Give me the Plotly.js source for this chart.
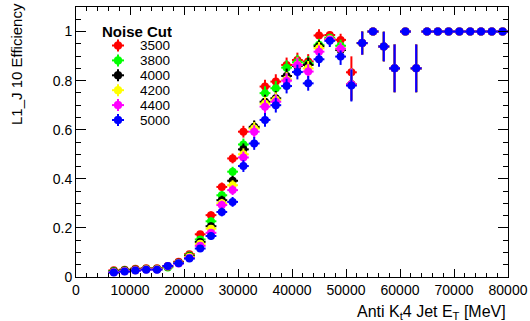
<!DOCTYPE html>
<html>
<head>
<meta charset="utf-8">
<script src="https://cdn.plot.ly/plotly-3.0.1.min.js"></script>
<style>html,body{margin:0;padding:0;background:#fff}#chart{width:530px;height:321px}</style>
</head>
<body>
<div id="chart"></div>
<script>
// Bin centres of jet E_T [MeV]
var binCenters = [7000,9000,11000,13000,15000,17000,19000,21000,23000,25000,27000,29000,31000,33000,35000,37000,39000,41000,43000,45000,47000,49000,51000,53000,55000,57000,59000,61000,63000,65000,67000,69000,71000,73000,75000,77000,79000];
var binHalfWidth = 1000;

// Efficiency per noise cut
var eff3500 = [0.027,0.030,0.034,0.036,0.036,0.045,0.062,0.093,0.174,0.252,0.367,0.483,0.592,0.608,0.776,0.796,0.864,0.884,0.878,0.984,0.986,0.966,0.834,0.953,1.0,0.939,0.850,1.0,0.850,1.0,1.0,1.0,1.0,1.0,1.0,1.0,1.0];
var eff3800 = [0.024,0.027,0.031,0.034,0.034,0.039,0.058,0.088,0.153,0.227,0.333,0.429,0.540,0.608,0.749,0.769,0.853,0.875,0.870,0.946,0.975,0.942,0.785,0.953,1.0,0.939,0.850,1.0,0.850,1.0,1.0,1.0,1.0,1.0,1.0,1.0,1.0];
var eff4000 = [0.022,0.026,0.030,0.033,0.033,0.042,0.058,0.085,0.143,0.207,0.313,0.392,0.520,0.612,0.714,0.728,0.819,0.860,0.864,0.940,0.970,0.925,0.785,0.953,1.0,0.939,0.850,1.0,0.850,1.0,1.0,1.0,1.0,1.0,1.0,1.0,1.0];
var eff4200 = [0.020,0.024,0.028,0.032,0.032,0.043,0.057,0.082,0.135,0.197,0.300,0.374,0.500,0.605,0.706,0.722,0.805,0.865,0.850,0.932,0.970,0.930,0.785,0.953,1.0,0.939,0.850,1.0,0.850,1.0,1.0,1.0,1.0,1.0,1.0,1.0,1.0];
var eff4400 = [0.019,0.023,0.027,0.031,0.031,0.044,0.055,0.078,0.127,0.180,0.293,0.354,0.487,0.592,0.694,0.714,0.800,0.864,0.837,0.918,0.968,0.930,0.785,0.953,1.0,0.939,0.850,1.0,0.850,1.0,1.0,1.0,1.0,1.0,1.0,1.0,1.0];
var eff5000 = [0.018,0.022,0.026,0.030,0.030,0.045,0.056,0.075,0.116,0.167,0.265,0.306,0.452,0.544,0.640,0.700,0.778,0.835,0.789,0.887,0.962,0.898,0.780,0.953,1.0,0.939,0.850,1.0,0.850,1.0,1.0,1.0,1.0,1.0,1.0,1.0,1.0];

// Statistical uncertainties (upper / lower)
var errUp   = [0.004,0.004,0.004,0.004,0.004,0.005,0.006,0.008,0.012,0.015,0.018,0.020,0.024,0.026,0.028,0.030,0.030,0.030,0.030,0.025,0.015,0.025,0.065,0.047,0,0.060,0.097,0,0.097,0,0,0,0,0,0,0,0];
var errDown = [0.004,0.004,0.004,0.004,0.004,0.005,0.006,0.008,0.012,0.015,0.018,0.020,0.024,0.026,0.028,0.030,0.030,0.030,0.030,0.030,0.025,0.034,0.065,0.047,0,0.060,0.097,0,0.097,0,0,0,0,0,0,0,0];

var seriesNames = ['3500','3800','4000','4200','4400','5000'];
var seriesValues = [eff3500, eff3800, eff4000, eff4200, eff4400, eff5000];
var seriesColors = ['#ff0000','#00ff00','#000000','#ffff00','#ff00ff','#0000ff'];
var legendTitle = 'Noise Cut';

var traces = seriesNames.map(function(n, i){
  return {
    type: 'scatter', mode: 'markers', name: n,
    x: binCenters, y: seriesValues[i],
    marker: {color: seriesColors[i], size: 8, symbol: 'circle'},
    error_y: {type: 'data', symmetric: false, array: errUp, arrayminus: errDown, color: seriesColors[i], thickness: 2, width: 0},
    error_x: {type: 'constant', value: binHalfWidth, color: seriesColors[i], thickness: 2, width: 0},
    cliponaxis: false, showlegend: false
  };
});

var FAM = 'Liberation Sans, Arial, Helvetica, sans-serif';
var tickFont = {family: FAM, size: 14, color: '#000'};
var legFont = {family: FAM, size: 13.5, color: '#000'};
var legTitleFont = {family: FAM, size: 15, color: '#000'};
var yTitleFont = {family: FAM, size: 15, color: '#000'};
var xTitleFont = {family: FAM, size: 16, color: '#000'};

// Plot-area geometry (pixels) used to place the hand-drawn legend
var M = {l: 76, r: 22, t: 7, b: 44};
var W = 530, H = 321;
var pw = W - M.l - M.r, ph = H - M.t - M.b;
function px2x(px){ return (px - M.l) / pw; }
function px2y(py){ return (H - M.b - py) / ph; }

var shapes = [], annotations = [];
var legMarkX = 118, legTextX = 138, legTitleY = 31, legRow0 = 45.5, legRowStep = 14.9;
annotations.push({text: '<b>' + legendTitle + '</b>', xref: 'paper', yref: 'paper',
  x: px2x(100), y: px2y(legTitleY), xanchor: 'left', yanchor: 'middle', height: 12, showarrow: false, font: legTitleFont});
seriesNames.forEach(function(n, i){
  var cy = legRow0 + i * legRowStep;
  var ax = px2x(legMarkX), ay = px2y(cy), c = seriesColors[i];
  shapes.push({type: 'line', xref: 'paper', yref: 'paper', xsizemode: 'pixel', ysizemode: 'pixel',
    xanchor: ax, yanchor: ay, x0: -6, x1: 6, y0: 0, y1: 0, line: {color: c, width: 2}});
  shapes.push({type: 'line', xref: 'paper', yref: 'paper', xsizemode: 'pixel', ysizemode: 'pixel',
    xanchor: ax, yanchor: ay, x0: 0, x1: 0, y0: -6, y1: 6, line: {color: c, width: 2}});
  shapes.push({type: 'circle', xref: 'paper', yref: 'paper', xsizemode: 'pixel', ysizemode: 'pixel',
    xanchor: ax, yanchor: ay, x0: -4, x1: 4, y0: -4, y1: 4, fillcolor: c, line: {color: c, width: 0.5}});
  annotations.push({text: n, xref: 'paper', yref: 'paper', x: px2x(legTextX), y: ay,
    xanchor: 'left', yanchor: 'middle', height: 11, showarrow: false, font: legFont});
});

annotations.push({text: 'L1_J 10 Efficiency', xref: 'paper', yref: 'paper', x: px2x(16), y: px2y(64),
  xanchor: 'center', yanchor: 'middle', textangle: -90, showarrow: false, font: yTitleFont});
annotations.push({text: 'Anti K<sub>t</sub>4 Jet E<sub>T</sub> [MeV]', xref: 'paper', yref: 'paper', x: 1, y: px2y(312),
  xanchor: 'right', yanchor: 'middle', showarrow: false, font: xTitleFont});

var layout = {
  width: W, height: H,
  margin: M,
  paper_bgcolor: '#fff', plot_bgcolor: '#fff',
  font: tickFont,
  showlegend: false,
  xaxis: {
    range: [0, 80000], tickmode: 'linear', tick0: 0, dtick: 10000, tickformat: 'd',
    ticks: 'inside', ticklen: 8, tickwidth: 1, tickcolor: '#000',
    minor: {dtick: 2000, ticks: 'inside', ticklen: 4, tickcolor: '#000', showgrid: false},
    showline: true, linecolor: '#000', linewidth: 1, mirror: 'allticks',
    showgrid: false, zeroline: false, tickfont: tickFont
  },
  yaxis: {
    range: [0, 1.1], tickmode: 'linear', tick0: 0, dtick: 0.2,
    ticks: 'inside', ticklen: 10, tickwidth: 1, tickcolor: '#000',
    minor: {dtick: 0.05, ticks: 'inside', ticklen: 5, tickcolor: '#000', showgrid: false},
    showline: true, linecolor: '#000', linewidth: 1, mirror: 'allticks',
    showgrid: false, zeroline: false, tickfont: tickFont
  },
  shapes: shapes,
  annotations: annotations
};

Plotly.newPlot('chart', traces, layout, {displayModeBar: false, staticPlot: true});
</script>
</body>
</html>
